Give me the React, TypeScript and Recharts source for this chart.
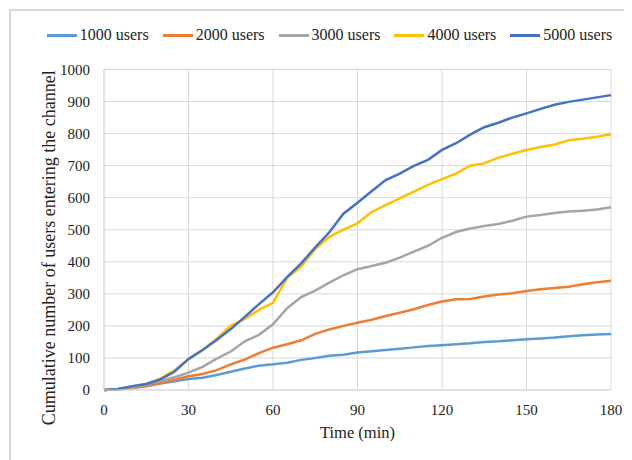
import { CartesianGrid, Legend, Line, LineChart, XAxis, YAxis } from 'recharts'

const minutes = [
  0, 5, 10, 15, 20, 25, 30, 35, 40, 45, 50, 55, 60, 65, 70, 75, 80, 85, 90,
  95, 100, 105, 110, 115, 120, 125, 130, 135, 140, 145, 150, 155, 160, 165,
  170, 175, 180,
]

const users1000 = [
  0, 2, 6, 12, 20, 27, 34, 38, 47, 57, 67, 76, 80, 85, 94, 100, 107, 110, 117,
  121, 125, 129, 133, 137, 140, 143, 146, 150, 152, 155, 158, 161, 164, 168,
  171, 173, 175,
]
const users2000 = [
  0, 2, 6, 13, 22, 32, 43, 50, 62, 80, 95, 115, 132, 143, 155, 175, 189, 200,
  210, 219, 231, 241, 252, 265, 276, 283, 284, 292, 298, 302, 309, 314, 318,
  322, 330, 336, 341,
]
const users3000 = [
  0, 3, 8, 17, 28, 40, 54, 72, 98, 120, 152, 172, 205, 255, 290, 310, 335, 358,
  377, 387, 397, 413, 432, 450, 475, 493, 504, 512, 518, 528, 541, 546, 552,
  557, 559, 563, 570,
]
const users4000 = [
  0, 3, 10, 19, 35, 62, 95, 125, 160, 200, 222, 250, 272, 350, 385, 440, 478,
  500, 520, 555, 577, 598, 619, 640, 658, 675, 700, 707, 725, 737, 749, 758,
  766, 779, 784, 790, 798,
]
const users5000 = [
  0, 3, 12, 19, 33, 57, 97, 125, 156, 190, 228, 268, 305, 352, 395, 445, 492,
  550, 584, 620, 655, 675, 699, 718, 749, 770, 797, 820, 834, 850, 863, 877,
  890, 899, 906, 913, 920,
]

const xTicks = [0, 30, 60, 90, 120, 150, 180]
const yTicks = [0, 100, 200, 300, 400, 500, 600, 700, 800, 900, 1000]

const series = [
  { key: 'u1000', name: '1000 users', color: '#5B9BD5', values: users1000 },
  { key: 'u2000', name: '2000 users', color: '#ED7D31', values: users2000 },
  { key: 'u3000', name: '3000 users', color: '#A5A5A5', values: users3000 },
  { key: 'u4000', name: '4000 users', color: '#FFC000', values: users4000 },
  { key: 'u5000', name: '5000 users', color: '#4472C4', values: users5000 },
]

const data = minutes.map((t, i) => {
  const row: Record<string, number> = { t }
  series.forEach((s) => {
    row[s.key] = s.values[i]
  })
  return row
})

const font = 'Liberation Serif, Tinos, Times New Roman, DejaVu Serif, serif'

function LegendRow() {
  return (
    <div
      style={{
        display: 'flex',
        justifyContent: 'center',
        gap: 14,
        paddingLeft: 19,
        fontFamily: font,
        fontSize: 16,
        color: '#222',
      }}
    >
      {series.map((s) => (
        <div key={s.key} style={{ display: 'flex', alignItems: 'center' }}>
          <span
            style={{
              display: 'inline-block',
              width: 30,
              height: 3,
              background: s.color,
              marginRight: 3,
            }}
          />
          <span>{s.name}</span>
        </div>
      ))}
    </div>
  )
}

function YTitle({ viewBox }: any) {
  const x = 47
  const y = viewBox.y + viewBox.height / 2 + 18
  return (
    <text
      x={x}
      y={y}
      transform={`rotate(-90, ${x}, ${y})`}
      textAnchor="middle"
      style={{ fontFamily: font, fontSize: 18 }}
      fill="#222"
    >
      Cumulative number of users entering the channel
    </text>
  )
}

export default function App() {
  return (
    <div style={{ position: 'relative', width: 624, height: 452, fontFamily: font }}>
      <div
        style={{
          position: 'absolute',
          left: 1,
          top: 1,
          width: 621,
          height: 449,
          borderLeft: '2px solid #d9d9d9',
          borderTop: '2px solid #d9d9d9',
        }}
      />
      <LineChart
        width={624}
        height={452}
        data={data}
        margin={{ top: 61.5, right: 21, bottom: 0, left: 0 }}
        style={{ fontFamily: font }}
      >
        <CartesianGrid stroke="#d9d9d9" strokeWidth={1} />
        <XAxis
          dataKey="t"
          type="number"
          domain={[0, 180]}
          ticks={xTicks}
          height={70}
          tickLine={false}
          tickSize={0}
          tickMargin={14}
          axisLine={{ stroke: '#d9d9d9' }}
          tick={{ style: { fontFamily: font, fontSize: 15 }, fill: '#222' }}
          label={{
            value: 'Time (min)',
            position: 'insideBottom',
            offset: 22,
            style: { fontFamily: font, fontSize: 16.5 },
            fill: '#222',
          }}
        />
        <YAxis
          type="number"
          domain={[0, 1000]}
          ticks={yTicks}
          width={96}
          tickLine={false}
          tickSize={0}
          tickMargin={14}
          axisLine={{ stroke: '#d9d9d9' }}
          tick={{ style: { fontFamily: font, fontSize: 15 }, fill: '#222' }}
          label={<YTitle />}
        />
        <Legend
          verticalAlign="middle"
          wrapperStyle={{ top: 18, left: 0, width: 624 }}
          content={() => <LegendRow />}
        />
        {series.map((s) => (
          <Line
            key={s.key}
            dataKey={s.key}
            name={s.name}
            stroke={s.color}
            strokeWidth={2.5}
            dot={false}
            type="linear"
            isAnimationActive={false}
          />
        ))}
      </LineChart>
    </div>
  )
}
